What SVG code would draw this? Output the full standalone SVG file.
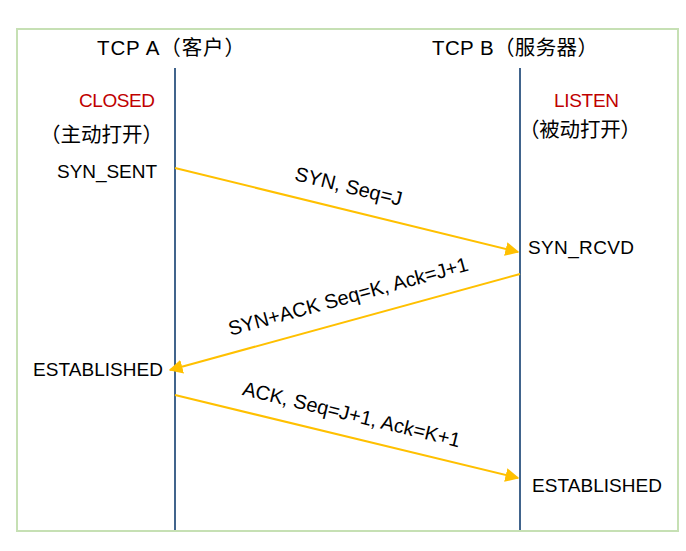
<svg xmlns="http://www.w3.org/2000/svg" width="686" height="551" viewBox="0 0 686 551">
<defs>
<style>
text{font-family:"Liberation Sans","Noto Sans CJK SC",sans-serif;font-size:19px;fill:#000}
.cjk{font-size:20.5px}
.lbl{font-size:20px}
.red{fill:#c00000}
.life{stroke:#41648c;stroke-width:2;fill:none}
.msg{stroke:#ffc000;stroke-width:2;fill:none;marker-end:url(#ah)}
</style>
<marker id="ah" viewBox="0 0 10 10" refX="9" refY="5" markerWidth="14" markerHeight="14" orient="auto" markerUnits="userSpaceOnUse"><path d="M0,0 L10,5 L0,10 z" fill="#ffc000"/></marker>
</defs>
<rect x="0" y="0" width="686" height="551" fill="#fff"/>
<rect x="17" y="29" width="661" height="502" fill="none" stroke="#c6e0b4" stroke-width="2"/>
<g id="tcpA">
<text class="cjk" x="97" y="55" textLength="148">TCP A（客户）</text>
<line class="life" x1="175" y1="68" x2="175" y2="530"/>
<text class="red" x="79" y="107" textLength="76">CLOSED</text>
<text class="cjk" x="40" y="142" textLength="123">（主动打开）</text>
<text x="57" y="178" textLength="100">SYN_SENT</text>
<text x="33" y="376" textLength="130">ESTABLISHED</text>
</g>
<g id="tcpB">
<text class="cjk" x="432" y="55" textLength="166">TCP B（服务器）</text>
<line class="life" x1="520" y1="68" x2="520" y2="530"/>
<text class="red" x="554" y="107" textLength="65">LISTEN</text>
<text class="cjk" x="519" y="137" textLength="122">（被动打开）</text>
<text x="528" y="254" textLength="106">SYN_RCVD</text>
<text x="532" y="492" textLength="130">ESTABLISHED</text>
</g>
<g id="connectors">
<line class="msg" x1="175" y1="168" x2="518" y2="252"/>
<line class="msg" x1="520" y1="274" x2="170" y2="370"/>
<line class="msg" x1="175" y1="395" x2="518" y2="478"/>
<text class="lbl" transform="translate(347,193) rotate(13.7)" text-anchor="middle">SYN, Seq=J</text>
<text class="lbl" transform="translate(350,303) rotate(-15.3)" text-anchor="middle">SYN+ACK Seq=K, Ack=J+1</text>
<text class="lbl" transform="translate(350,421) rotate(13.6)" text-anchor="middle">ACK, Seq=J+1, Ack=K+1</text>
</g>
</svg>
